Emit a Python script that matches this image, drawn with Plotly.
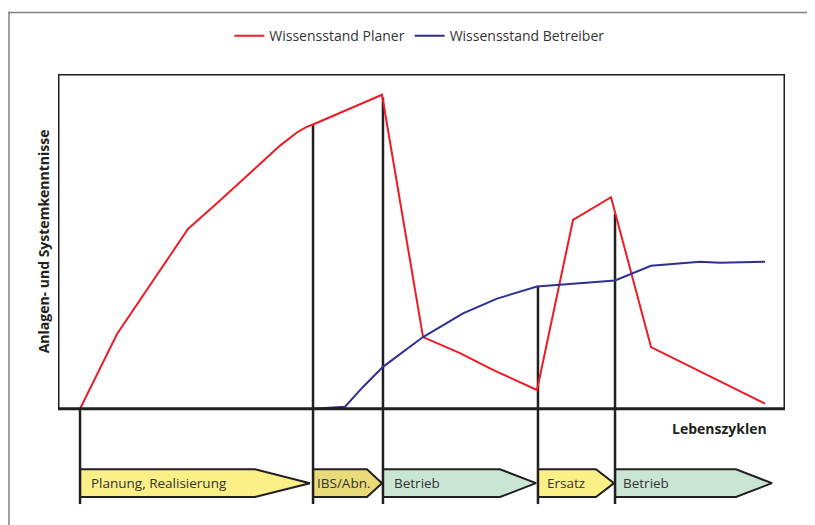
import plotly.graph_objects as go

# Time axis (0..100) and knowledge level (0..100)
planer_x = [3.03, 8.12, 17.88, 22.01, 30.54, 32.90, 34.20, 35.08, 44.57, 50.21, 55.30, 59.83, 65.89, 70.84, 76.07, 81.57, 97.25]
planer_y = [0, 22.3, 53.7, 61.7, 78.6, 82.6, 84.2, 84.9, 93.8, 21.4, 16.6, 11.6, 5.6, 56.4, 63.2, 18.4, 1.5]

betreiber_x = [35.08, 39.48, 41.95, 44.70, 50.21, 55.71, 60.39, 65.89, 76.62, 81.57, 88.31, 91.06, 97.25]
betreiber_y = [0, 0.6, 6.5, 12.5, 21.4, 28.5, 32.9, 36.5, 38.3, 42.7, 43.9, 43.6, 43.9]

# Phase boundaries (x) and the height where each boundary line starts
boundary_x = [3.03, 35.08, 44.70, 66.02, 76.62]
boundary_top = [0, 84.9, 93.0, 36.5, 58.2]

# Phases: start, body end, tip, label, colour
phase_labels = ["Planung, Realisierung", "IBS/Abn.", "Betrieb", "Ersatz", "Betrieb"]
phase_start = [3.03, 35.08, 44.70, 66.02, 76.62]
phase_body_end = [27.10, 42.50, 60.80, 74.00, 93.26]
phase_tip = [34.66, 44.57, 65.75, 76.48, 98.21]
phase_colors = ["#fbef88", "#e9db78", "#c9e5d4", "#fbef88", "#c9e5d4"]

series_names = ["Wissensstand Planer", "Wissensstand Betreiber"]
y_title = "Anlagen- und Systemkenntnisse"
x_title = "Lebenszyklen"

ARROW_TOP, ARROW_BOT = -18.1, -26.4
ARROW_MID = (ARROW_TOP + ARROW_BOT) / 2
LINE_BOTTOM = -28.5
DARK = "#231f20"
FONT = "Open Sans"

fig = go.Figure()

# phase arrows
for s, b, t, c in zip(phase_start, phase_body_end, phase_tip, phase_colors):
    fig.add_trace(go.Scatter(
        x=[s, b, t, b, s, s], y=[ARROW_TOP, ARROW_TOP, ARROW_MID, ARROW_BOT, ARROW_BOT, ARROW_TOP],
        mode="lines", fill="toself", fillcolor=c,
        line=dict(color=DARK, width=2), showlegend=False, hoverinfo="skip"))

# phase boundary lines
for bx, top in zip(boundary_x, boundary_top):
    fig.add_trace(go.Scatter(x=[bx, bx], y=[top, LINE_BOTTOM], mode="lines",
                             line=dict(color=DARK, width=2.5), showlegend=False, hoverinfo="skip"))

fig.add_trace(go.Scatter(x=planer_x, y=planer_y, mode="lines", name=series_names[0],
                         line=dict(color="#ed1c24", width=2)))
fig.add_trace(go.Scatter(x=betreiber_x, y=betreiber_y, mode="lines", name=series_names[1],
                         line=dict(color="#2e3192", width=2)))

# phase labels
ann = []
label_x = [4.2, 35.4, 46.0, 67.0, 77.5]
for lx, lab in zip(label_x, phase_labels):
    ann.append(dict(x=lx, y=ARROW_MID, xref="x", yref="y", text=lab, showarrow=False,
                    xanchor="left", yanchor="middle", font=dict(family=FONT, size=13.5, color="#333333")))
ann.append(dict(x=-0.0206, y=50, xref="paper", yref="y", text="<b>" + y_title + "</b>", textangle=-90,
                showarrow=False, xanchor="center", yanchor="middle",
                font=dict(family=FONT, size=14, color=DARK)))
ann.append(dict(x=91.0, y=-5.9, xref="x", yref="y", text="<b>" + x_title + "</b>", showarrow=False,
                xanchor="center", yanchor="middle", font=dict(family=FONT, size=14, color=DARK)))

# outer frame: left edge at page x=8, top at page y=8 (page has 8px body offset)
FX = (0 - 50) / 727
FY = 1 + (63 - 0) / 439
shapes = [
    dict(type="rect", xref="x", yref="y", x0=0, x1=100, y0=0, y1=100,
         line=dict(color=DARK, width=3), layer="above"),
    dict(type="line", xref="paper", yref="paper", x0=FX + 1 / 727, x1=FX + 1 / 727, y0=-0.2, y1=FY,
         line=dict(color="#808080", width=1.5)),
    dict(type="line", xref="paper", yref="paper", x0=FX + 1 / 727, x1=1.1, y0=FY - 1 / 439, y1=FY - 1 / 439,
         line=dict(color="#808080", width=1.5)),
]

fig.update_layout(
    width=815, height=525,
    margin=dict(l=50, r=38, t=63, b=23),
    paper_bgcolor="white", plot_bgcolor="white",
    xaxis=dict(range=[0, 100], visible=False, fixedrange=True),
    yaxis=dict(range=[-30.27, 100], visible=False, fixedrange=True),
    showlegend=True,
    legend=dict(orientation="h", x=0.497, xanchor="center", y=1.087, yanchor="middle",
                font=dict(family=FONT, size=14, color="#333333"), bgcolor="rgba(0,0,0,0)",
                itemwidth=30, tracegroupgap=0),
    annotations=ann, shapes=shapes,
    font=dict(family=FONT),
)

fig.write_html("out.html")
